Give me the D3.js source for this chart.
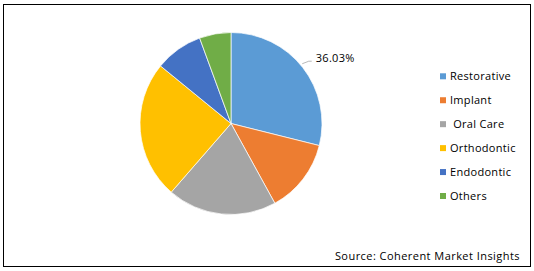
<!DOCTYPE html>
<html>
<head>
<meta charset="utf-8">
<script src="https://cdn.jsdelivr.net/npm/d3@7"></script>
<style>
html,body{margin:0;padding:0;background:#fff;}
svg{display:block;}
text{font-family:"Open Sans",sans-serif;fill:#000;}
</style>
</head>
<body>
<script>
const categories = ["Restorative", "Implant", " Oral Care", "Orthodontic", "Endodontic", "Others"];
const shares = [28.9, 13.1, 19.4, 24.5, 8.5, 5.6];
const colors = ["#5B9BD5", "#ED7D31", "#A5A5A5", "#FFC000", "#4472C4", "#70AD47"];
const labelTexts = ["36.03%"];
const sourceText = "Source: Coherent Market Insights";

const W = 534, H = 271;
const svg = d3.select("body").append("svg").attr("width", W).attr("height", H);

svg.append("rect").attr("x", 3.5).attr("y", 4.5).attr("width", 527).attr("height", 262)
  .attr("fill", "#fff").attr("stroke", "#000").attr("stroke-width", 1);

const cx = 231, cy = 123.5, R = 91;
const pie = d3.pie().sort(null).value(d => d)(shares);
const arc = d3.arc().innerRadius(0).outerRadius(R);
const g = svg.append("g").attr("transform", `translate(${cx},${cy})`);
g.selectAll("path").data(pie).enter().append("path")
  .attr("d", arc)
  .attr("fill", (d, i) => colors[i])
  .attr("stroke", "#fff").attr("stroke-width", 0.7);

// data label for first slice
const ang = 50 * Math.PI / 180;
const p0 = [Math.sin(ang) * (R + 2), -Math.cos(ang) * (R + 2)];
const p1 = [p0[0] + 6.5, p0[1] - 2.5];
const p2 = [p1[0] + 3, p1[1]];
g.append("polyline").attr("points", [p0, p1, p2].map(p => p.join(",")).join(" "))
  .attr("fill", "none").attr("stroke", "#A6A6A6").attr("stroke-width", 0.8);
g.append("text").attr("x", p2[0] + 4).attr("y", p2[1] + 0.8)
  .attr("font-size", 11).attr("letter-spacing", 0.3).text(labelTexts[0]);

// legend
const ly = d3.scaleLinear().domain([0, 5]).range([76.3, 196]);
const leg = svg.append("g");
categories.forEach((c, i) => {
  leg.append("rect").attr("x", 440).attr("y", ly(i) - 3).attr("width", 6).attr("height", 6).attr("fill", colors[i]);
  leg.append("text").attr("x", 450).attr("y", ly(i) + 3.8).attr("font-size", 11)
    .attr("letter-spacing", 0.3).attr("xml:space", "preserve").style("white-space", "pre").text(c);
});

svg.append("text").attr("x", 520).attr("y", 260).attr("text-anchor", "end")
  .attr("font-size", 11).attr("letter-spacing", 0.45).text(sourceText);
</script>
</body>
</html>
